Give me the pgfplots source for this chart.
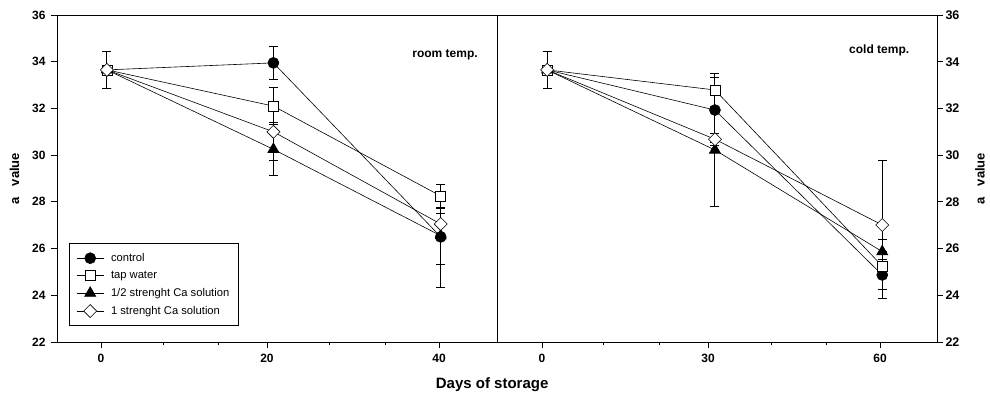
\documentclass[border=0pt]{standalone}
\usepackage{pgfplots}
\pgfplotsset{compat=1.18}
\usepackage{pgfplotstable}
\usepackage{fontspec}
\setmainfont{Liberation Sans}

% left panel (room temp.)
\pgfplotstableread{
x y e
0.7 33.65 0.78
20.4 33.95 0.72
40.2 26.50 1.20
}\LCtrl
\pgfplotstableread{
x y e
0.7 33.65 0.78
20.4 32.10 0.80
40.2 28.25 0.50
}\LTap
\pgfplotstableread{
x y e
0.7 33.65 0.78
20.4 30.25 1.13
40.2 26.55 2.20
}\LHalf
\pgfplotstableread{
x y e
0.7 33.65 0.78
20.4 31.00 1.25
40.2 27.05 0.45
}\LOne
% right panel (cold temp.)
\pgfplotstableread{
x y e
0.9 33.65 0.78
30.7 31.93 1.40
60.4 24.87 1.00
}\RCtrl
\pgfplotstableread{
x y e
0.9 33.65 0.78
30.7 32.79 0.70
60.4 25.25 0.30
}\RTap
\pgfplotstableread{
x y e
0.9 33.65 0.78
30.7 30.22 2.40
60.4 25.87 0.50
}\RHalf
\pgfplotstableread{
x y e
0.9 33.65 0.78
30.7 30.68 0.25
60.4 27.01 2.78
}\ROne

\pgfplotsset{
  panel/.style={
    scale only axis, width=440pt, height=327pt,
    ymin=22, ymax=36, ytick={22,24,...,36},
    tick align=outside, major tick length=6pt, minor tick length=3pt,
    axis line style={line width=0.8pt},
    every tick/.style={black, line width=0.8pt},
    tick label style={font=\bfseries\fontsize{12}{14}\selectfont},
    xticklabel style={yshift=-3pt},
    /pgf/number format/assume math mode=true,
    clip=false,
  },
  ser/.style={black, line width=0.6pt,
    error bars/y dir=both, error bars/y explicit,
    error bars/error bar style={line width=1pt},
    error bars/error mark options={rotate=90, mark size=4.5pt, line width=1pt}},
  sctrl/.style={ser, mark=*, mark size=5.5pt, mark options={solid, fill=black}},
  stap/.style={ser, mark=square*, mark size=5pt, mark options={solid, fill=white}},
  shalf/.style={ser, mark=triangle*, mark size=6.4pt, mark options={solid, fill=black}},
  sone/.style={ser, mark=square*, mark size=4.6pt, mark options={solid, fill=white, rotate=45}},
}

\begin{document}
\begin{tikzpicture}
\path[use as bounding box] (0,0) rectangle (990pt,397pt);
\begin{axis}[panel, name=L,
  at={(57pt,55pt)}, anchor=south west,
  xmin=-5.21, xmax=46.86,
  xtick={0,19.64,40}, xticklabels={0,20,40},
  minor xtick={7.34,13.85,26.98,33.6},
  xtick pos=left, ytick pos=left,
  yticklabel style={xshift=-2pt},
  ylabel={a\ \ \ value},
  ylabel style={at={(axis description cs:-0.0966,0.5)}, anchor=center, font=\bfseries\fontsize{13}{15}\selectfont},
  xlabel={Days of storage},
  xlabel style={at={(axis description cs:0.989,-0.1315)}, anchor=center, font=\bfseries\fontsize{15}{17}\selectfont},
  legend style={at={(axis description cs:0.0273,0.3028)}, anchor=north west,
    draw=black, line width=0.8pt, font=\fontsize{11.2}{12}\selectfont,
    inner xsep=7pt, inner ysep=8pt, row sep=4.3pt,
    /tikz/every odd column/.append style={column sep=5pt}},
  legend cell align=left,
  legend image code/.code={\draw[mark repeat=2,mark phase=2,#1] plot coordinates {(0pt,0pt) (13.5pt,0pt) (27pt,0pt)};},
]
\addplot[sctrl] table[x=x,y=y,y error=e]{\LCtrl};
\addplot[stap] table[x=x,y=y,y error=e]{\LTap};
\addplot[shalf] table[x=x,y=y,y error=e]{\LHalf};
\addplot[sone] table[x=x,y=y,y error=e]{\LOne};
\legend{control, tap water, 1/2 strenght Ca solution, 1 strenght Ca solution}
\node[anchor=east, inner sep=0pt, font=\bfseries\fontsize{12}{14}\selectfont] at (axis cs:44.6,34.3) {room temp.};
\end{axis}
\begin{axis}[panel, name=R,
  at={(497pt,55pt)}, anchor=south west,
  xmin=-7.99, xmax=70.12,
  xtick={0,29.47,60}, xticklabels={0,30,60},
  minor xtick={10.83,20.77,40.65,50.42},
  xtick pos=left, ytick pos=right, yticklabel pos=right,
  yticklabel style={xshift=-1pt, font=\bfseries\fontsize{12.5}{14}\selectfont},
  ylabel={a\ \ \ value},
  ylabel style={at={(axis description cs:1.0977,0.5)}, anchor=center, font=\bfseries\fontsize{13}{15}\selectfont},
]
\addplot[sctrl] table[x=x,y=y,y error=e]{\RCtrl};
\addplot[stap] table[x=x,y=y,y error=e]{\RTap};
\addplot[shalf] table[x=x,y=y,y error=e]{\RHalf};
\addplot[sone] table[x=x,y=y,y error=e]{\ROne};
\node[anchor=west, inner sep=0pt, font=\bfseries\fontsize{12}{14}\selectfont] at (axis cs:54.5,34.5) {cold temp.};
\end{axis}
\end{tikzpicture}
\end{document}
